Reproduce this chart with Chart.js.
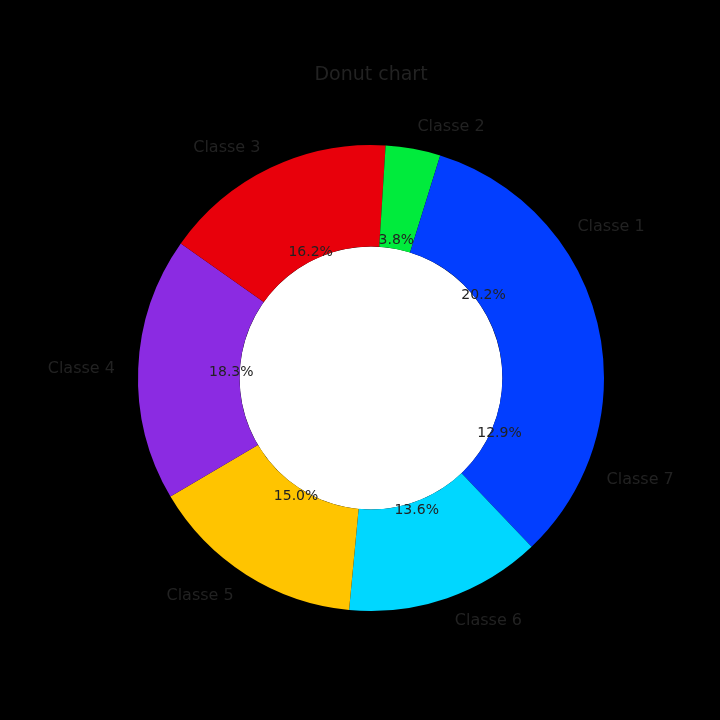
<!DOCTYPE html>
<html>
<head>
<meta charset="utf-8">
<script src="https://cdn.jsdelivr.net/npm/chart.js@4.4.1/dist/chart.umd.min.js"></script>
<style>
  html, body { margin: 0; padding: 0; background: #000; }
  #wrap { width: 720px; height: 720px; }
</style>
</head>
<body>
<div id="wrap"><canvas id="donut"></canvas></div>
<script>
const titulo = "Donut chart";
const categorias = ["Classe 1", "Classe 2", "Classe 3", "Classe 4", "Classe 5", "Classe 6", "Classe 7"];
const valores = [20.2, 3.8, 16.2, 18.3, 15.0, 13.6, 12.9];
const colores = ["#023eff", "#00eb3c", "#e8000b", "#8b2be2", "#ffc400", "#00d7ff", "#023eff"];

// matplotlib dibuja en sentido antihorario, Chart.js en horario: invertimos
const cats = categorias.slice().reverse();
const vals = valores.slice().reverse();
const cols = colores.slice().reverse();

const textoOscuro = "#222222";

// agujero blanco, etiquetas y porcentajes
const etiquetasPlugin = {
  id: "etiquetas",
  beforeDatasetsDraw(chart) {
    const arc0 = chart.getDatasetMeta(0).data[0];
    if (!arc0) return;
    const ctx = chart.ctx;
    ctx.save();
    ctx.fillStyle = "#ffffff";
    ctx.beginPath();
    ctx.arc(arc0.x, arc0.y, arc0.innerRadius, 0, Math.PI * 2);
    ctx.fill();
    ctx.restore();
  },
  afterDraw(chart) {
    const ctx = chart.ctx;
    const meta = chart.getDatasetMeta(0);
    const total = vals.reduce((a, b) => a + b, 0);
    ctx.save();
    ctx.fillStyle = textoOscuro;
    ctx.textBaseline = "middle";

    // titulo
    ctx.font = "19px 'DejaVu Sans'";
    ctx.textAlign = "center";
    const cx = (chart.chartArea.left + chart.chartArea.right) / 2;
    ctx.fillText(titulo, cx, chart.chartArea.top - 70);

    meta.data.forEach((arc, i) => {
      const a = (arc.startAngle + arc.endAngle) / 2;
      const R = arc.outerRadius;
      const cosA = Math.cos(a), sinA = Math.sin(a);

      // etiqueta exterior
      ctx.font = "16px 'DejaVu Sans'";
      ctx.textAlign = cosA >= 0 ? "left" : "right";
      ctx.fillText(cats[i], arc.x + R * 1.1 * cosA, arc.y + R * 1.1 * sinA + 1);

      // porcentaje
      ctx.font = "14px 'DejaVu Sans'";
      ctx.textAlign = "center";
      const pct = (vals[i] / total * 100).toFixed(1) + "%";
      ctx.fillText(pct, arc.x + R * 0.6 * cosA, arc.y + R * 0.6 * sinA);
    });
    ctx.restore();
  }
};

const ctx = document.getElementById("donut").getContext("2d");
new Chart(ctx, {
  type: "doughnut",
  data: {
    labels: cats,
    datasets: [{
      data: vals,
      backgroundColor: cols,
      borderWidth: 0
    }]
  },
  options: {
    responsive: true,
    maintainAspectRatio: false,
    animation: false,
    events: [],
    rotation: 90,
    cutout: "56.4%",
    layout: {
      padding: { left: 138, right: 116, top: 145, bottom: 109 }
    },
    plugins: {
      legend: { display: false },
      title: { display: false },
      tooltip: { enabled: false }
    }
  },
  plugins: [etiquetasPlugin]
});
</script>
</body>
</html>
